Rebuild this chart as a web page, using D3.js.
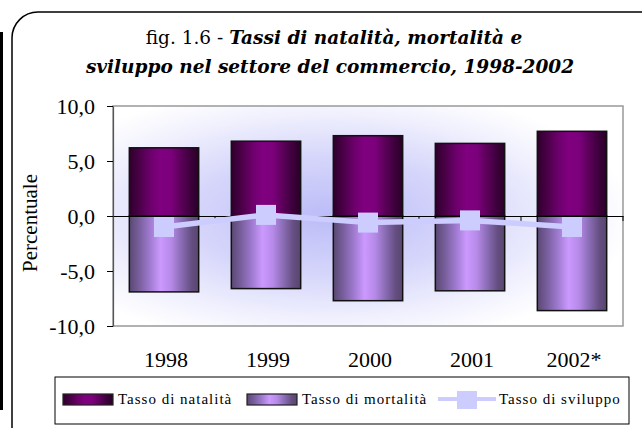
<!DOCTYPE html>
<html>
<head>
<meta charset="utf-8">
<script src="https://cdn.jsdelivr.net/npm/d3@7"></script>
<style>
  body { margin: 0; background: #fff; }
  svg { display: block; }
</style>
</head>
<body>
<div id="chart"></div>
<script>
// data
const years = ["1998", "1999", "2000", "2001", "2002*"];
const natalita = [6.2, 6.8, 7.3, 6.6, 7.7];
const mortalita = [-6.9, -6.6, -7.7, -6.8, -8.6];
const sviluppo = [-1.0, 0.1, -0.6, -0.4, -1.0];
const yTicks = [-10, -5, 0, 5, 10];

const width = 642, height = 428;
const plot = { left: 113, right: 623, top: 106, bottom: 326 };

const it = d3.formatLocale({ decimal: ",", thousands: ".", grouping: [3], currency: ["", "€"], minus: "-" });
const fmt = it.format(".1f");

const svg = d3.select("#chart").append("svg")
  .attr("width", width)
  .attr("height", height);

const defs = svg.append("defs");

function stripe(id, stops) {
  const g = defs.append("linearGradient").attr("id", id)
    .attr("x1", 0).attr("x2", 1).attr("y1", 0).attr("y2", 0);
  stops.forEach(s => g.append("stop").attr("offset", s[0]).attr("stop-color", s[1]));
}
stripe("natGrad", [[0, "#2e002c"], [0.15, "#4c0049"], [0.3, "#6c006b"], [0.45, "#800080"],
  [0.6, "#7c007c"], [0.75, "#5a0058"], [0.9, "#3a0038"], [1, "#2a0028"]]);
stripe("morGrad", [[0, "#5a4872"], [0.15, "#7a60a0"], [0.3, "#a07ad0"], [0.45, "#cc99ff"],
  [0.6, "#b68ae8"], [0.75, "#8a6cb4"], [0.9, "#644e80"], [1, "#58466e"]]);

const bg = defs.append("radialGradient").attr("id", "bgGrad")
  .attr("cx", "42%").attr("cy", "50%").attr("r", "60%");
bg.append("stop").attr("offset", 0).attr("stop-color", "#bcbcf8");
bg.append("stop").attr("offset", 0.45).attr("stop-color", "#d6d6fb");
bg.append("stop").attr("offset", 0.8).attr("stop-color", "#f2f2fe");
bg.append("stop").attr("offset", 1).attr("stop-color", "#ffffff");

// outer frames
svg.append("rect")
  .attr("x", 0).attr("y", 32).attr("width", 3).attr("height", 378)
  .attr("fill", "#000");
svg.append("rect")
  .attr("x", 12).attr("y", 12).attr("width", 660).attr("height", 440)
  .attr("rx", 26).attr("ry", 26)
  .attr("fill", "#fff").attr("stroke", "#000").attr("stroke-width", 1.5);

// title
const title = svg.append("text")
  .attr("text-anchor", "middle")
  .attr("font-family", "'DejaVu Serif', serif")
  .attr("font-size", 18.5)
  .attr("fill", "#000");
const t1 = title.append("tspan").attr("x", 334).attr("y", 44);
t1.append("tspan").text("fig. 1.6 - ");
t1.append("tspan").attr("font-style", "italic").attr("font-weight", "bold")
  .text("Tassi di natalità, mortalità e");
title.append("tspan").attr("x", 330).attr("y", 73)
  .attr("font-style", "italic").attr("font-weight", "bold")
  .text("sviluppo nel settore del commercio, 1998-2002");

const x = d3.scaleBand()
  .domain(years)
  .range([plot.left, plot.right]);

const y = d3.scaleLinear()
  .domain([-10, 10])
  .range([plot.bottom, plot.top]);

const barW = x.bandwidth() * 0.68;

// plot area
svg.append("rect")
  .attr("x", plot.left).attr("y", plot.top)
  .attr("width", plot.right - plot.left).attr("height", plot.bottom - plot.top)
  .attr("fill", "url(#bgGrad)")
  .attr("stroke", "#999").attr("stroke-width", 1.5);

// y axis
svg.append("g")
  .attr("transform", `translate(${plot.left},0)`)
  .call(d3.axisLeft(y).tickValues(yTicks).tickFormat(fmt).tickSize(6).tickSizeOuter(0).tickPadding(12))
  .call(g => g.select(".domain").attr("stroke", "#555").attr("stroke-width", 1.2))
  .call(g => g.selectAll("text")
    .attr("font-family", "'Liberation Serif', serif")
    .attr("font-size", 22).attr("fill", "#000"));

svg.append("text")
  .attr("transform", `translate(37,${(plot.top + plot.bottom) / 2 + 7}) rotate(-90)`)
  .attr("text-anchor", "middle")
  .attr("font-family", "'Liberation Serif', serif")
  .attr("font-size", 21)
  .text("Percentuale");

// bars
svg.append("g").selectAll("rect")
  .data(natalita)
  .join("rect")
  .attr("x", (d, i) => x(years[i]) + (x.bandwidth() - barW) / 2)
  .attr("y", d => y(d))
  .attr("width", barW)
  .attr("height", d => y(0) - y(d))
  .attr("fill", "url(#natGrad)")
  .attr("stroke", "#111").attr("stroke-width", 1.5);

svg.append("g").selectAll("rect")
  .data(mortalita)
  .join("rect")
  .attr("x", (d, i) => x(years[i]) + (x.bandwidth() - barW) / 2)
  .attr("y", y(0))
  .attr("width", barW)
  .attr("height", d => y(d) - y(0))
  .attr("fill", "url(#morGrad)")
  .attr("stroke", "#111").attr("stroke-width", 1.5);

// zero line with category ticks
svg.append("g")
  .attr("transform", `translate(0,${y(0)})`)
  .call(d3.axisBottom(x).tickSize(0).tickFormat(""))
  .call(g => g.select(".domain").attr("stroke", "#000").attr("stroke-width", 1.2))
  .call(g => g.selectAll(".cat")
    .data(years)
    .join("line")
    .attr("class", "cat")
    .attr("x1", d => x(d) + x.bandwidth()).attr("x2", d => x(d) + x.bandwidth())
    .attr("y1", 0).attr("y2", 5)
    .attr("stroke", "#000"));

// x labels
svg.append("g").selectAll("text")
  .data(years)
  .join("text")
  .attr("x", d => x(d) + x.bandwidth() / 2 + 2)
  .attr("y", 367)
  .attr("text-anchor", "middle")
  .attr("font-family", "'Liberation Serif', serif")
  .attr("font-size", 22)
  .text(d => d);

// sviluppo line
const line = d3.line()
  .x((d, i) => x(years[i]) + x.bandwidth() / 2)
  .y(d => y(d));

svg.append("path")
  .datum(sviluppo)
  .attr("fill", "none")
  .attr("stroke", "#ccccff")
  .attr("stroke-width", 5.5)
  .attr("d", line);

svg.append("g").selectAll("rect")
  .data(sviluppo)
  .join("rect")
  .attr("x", (d, i) => x(years[i]) + x.bandwidth() / 2 - 10)
  .attr("y", d => y(d) - 10)
  .attr("width", 20).attr("height", 20)
  .attr("fill", "#ccccff");

// legend
const legend = svg.append("g");
legend.append("rect")
  .attr("x", 55).attr("y", 377).attr("width", 574).attr("height", 47)
  .attr("fill", "#fff").attr("stroke", "#000").attr("stroke-width", 1);

const items = [
  { label: "Tasso di natalità", fill: "url(#natGrad)", x: 63 },
  { label: "Tasso di mortalità", fill: "url(#morGrad)", x: 247 },
  { label: "Tasso di sviluppo", fill: null, x: 438 }
];

items.forEach(it => {
  if (it.fill) {
    legend.append("rect")
      .attr("x", it.x).attr("y", 394).attr("width", 50).attr("height", 11)
      .attr("fill", it.fill).attr("stroke", "#222").attr("stroke-width", 1.2);
  } else {
    legend.append("line")
      .attr("x1", it.x).attr("x2", it.x + 58).attr("y1", 399).attr("y2", 399)
      .attr("stroke", "#ccccff").attr("stroke-width", 4);
    legend.append("rect")
      .attr("x", it.x + 19).attr("y", 391).attr("width", 20).attr("height", 18)
      .attr("fill", "#ccccff");
  }
  legend.append("text")
    .attr("x", it.x + (it.fill ? 55 : 61))
    .attr("y", 404)
    .attr("font-family", "'Liberation Serif', serif")
    .attr("font-size", 15)
    .attr("letter-spacing", 1)
    .text(it.label);
});
</script>
</body>
</html>
